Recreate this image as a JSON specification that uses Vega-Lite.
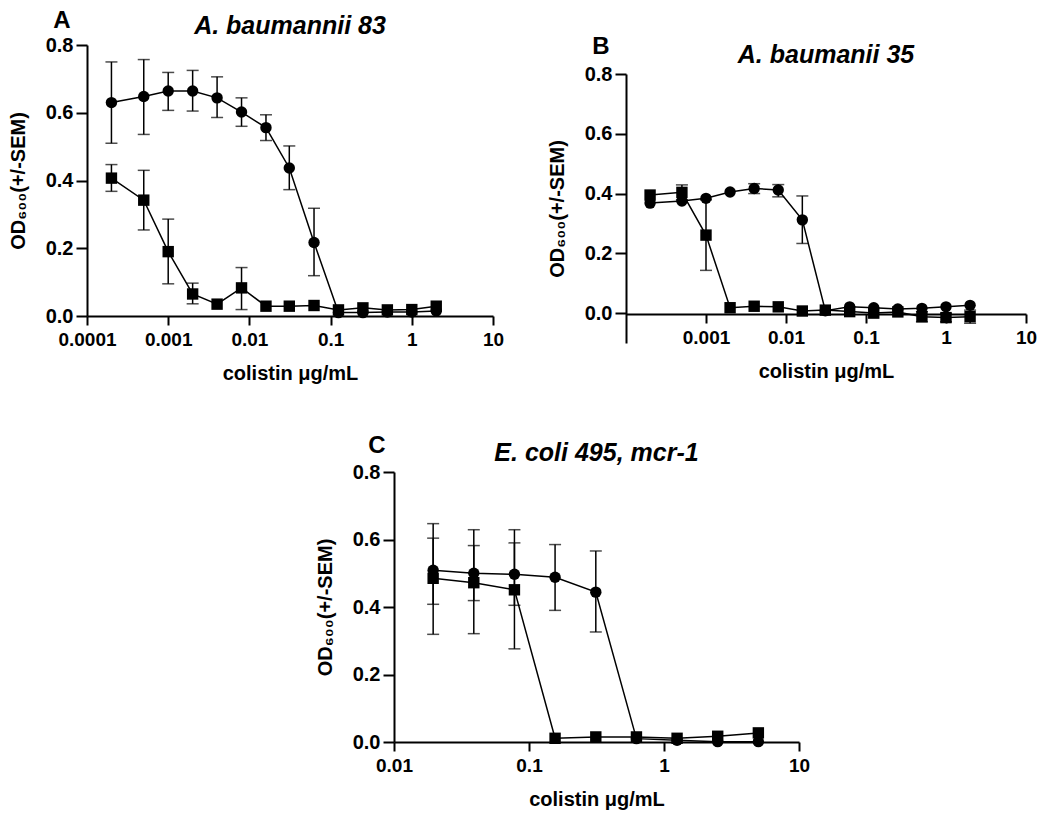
{
  "$schema": "https://vega.github.io/schema/vega-lite/v6.json",
  "background": "white",
  "padding": {"left": 8, "top": 9, "right": 5, "bottom": 5},
  "config": {
    "view": {"stroke": null},
    "font": "Liberation Sans",
    "axis": {
      "domainColor": "black", "domainWidth": 2, "tickColor": "black", "tickWidth": 2, "tickSize": 9,
      "labelFont": "Liberation Sans", "labelFontSize": 19, "labelFontWeight": "bold", "labelColor": "black",
      "titleFont": "Liberation Sans", "titleFontSize": 20, "titleFontWeight": "bold", "titleColor": "black",
      "grid": false, "labelFlush": false, "labelOverlap": false
    },
    "axisX": {"labelPadding": 5, "titlePadding": 14},
    "axisY": {"labelPadding": 3, "titlePadding": 17, "labelFontSize": 20, "tickSize": 11},
    "title": {"font": "Liberation Sans", "fontSize": 25, "fontWeight": "bold", "fontStyle": "italic", "color": "black", "anchor": "middle", "offset": -4}
  },
  "datasets": {
    "d": [
      {"panel": "A", "s": "circle", "x": 0.0002, "y": 0.630, "lo": 0.510, "hi": 0.750},
      {"panel": "A", "s": "circle", "x": 0.0005, "y": 0.648, "lo": 0.536, "hi": 0.757},
      {"panel": "A", "s": "circle", "x": 0.001, "y": 0.664, "lo": 0.607, "hi": 0.719},
      {"panel": "A", "s": "circle", "x": 0.002, "y": 0.664, "lo": 0.605, "hi": 0.725},
      {"panel": "A", "s": "circle", "x": 0.004, "y": 0.644, "lo": 0.586, "hi": 0.706},
      {"panel": "A", "s": "circle", "x": 0.008, "y": 0.602, "lo": 0.560, "hi": 0.644},
      {"panel": "A", "s": "circle", "x": 0.016, "y": 0.556, "lo": 0.518, "hi": 0.594},
      {"panel": "A", "s": "circle", "x": 0.031, "y": 0.437, "lo": 0.373, "hi": 0.502},
      {"panel": "A", "s": "circle", "x": 0.0625, "y": 0.217, "lo": 0.119, "hi": 0.318},
      {"panel": "A", "s": "circle", "x": 0.125, "y": 0.010, "lo": null, "hi": null},
      {"panel": "A", "s": "circle", "x": 0.25, "y": 0.010, "lo": null, "hi": null},
      {"panel": "A", "s": "circle", "x": 0.5, "y": 0.012, "lo": null, "hi": null},
      {"panel": "A", "s": "circle", "x": 1, "y": 0.012, "lo": null, "hi": null},
      {"panel": "A", "s": "circle", "x": 2, "y": 0.015, "lo": null, "hi": null},
      {"panel": "A", "s": "square", "x": 0.0002, "y": 0.407, "lo": 0.368, "hi": 0.447},
      {"panel": "A", "s": "square", "x": 0.0005, "y": 0.342, "lo": 0.254, "hi": 0.430},
      {"panel": "A", "s": "square", "x": 0.001, "y": 0.190, "lo": 0.095, "hi": 0.286},
      {"panel": "A", "s": "square", "x": 0.002, "y": 0.065, "lo": 0.036, "hi": 0.097},
      {"panel": "A", "s": "square", "x": 0.004, "y": 0.035, "lo": null, "hi": null},
      {"panel": "A", "s": "square", "x": 0.008, "y": 0.083, "lo": 0.019, "hi": 0.143},
      {"panel": "A", "s": "square", "x": 0.016, "y": 0.029, "lo": null, "hi": null},
      {"panel": "A", "s": "square", "x": 0.031, "y": 0.029, "lo": null, "hi": null},
      {"panel": "A", "s": "square", "x": 0.0625, "y": 0.031, "lo": null, "hi": null},
      {"panel": "A", "s": "square", "x": 0.125, "y": 0.018, "lo": null, "hi": null},
      {"panel": "A", "s": "square", "x": 0.25, "y": 0.024, "lo": null, "hi": null},
      {"panel": "A", "s": "square", "x": 0.5, "y": 0.018, "lo": null, "hi": null},
      {"panel": "A", "s": "square", "x": 1, "y": 0.019, "lo": null, "hi": null},
      {"panel": "A", "s": "square", "x": 2, "y": 0.029, "lo": null, "hi": null},

      {"panel": "B", "s": "circle", "x": 0.0002, "y": 0.368, "lo": null, "hi": null},
      {"panel": "B", "s": "circle", "x": 0.0005, "y": 0.375, "lo": null, "hi": null},
      {"panel": "B", "s": "circle", "x": 0.001, "y": 0.384, "lo": null, "hi": null},
      {"panel": "B", "s": "circle", "x": 0.002, "y": 0.405, "lo": null, "hi": null},
      {"panel": "B", "s": "circle", "x": 0.004, "y": 0.417, "lo": 0.400, "hi": 0.433},
      {"panel": "B", "s": "circle", "x": 0.008, "y": 0.412, "lo": 0.389, "hi": 0.430},
      {"panel": "B", "s": "circle", "x": 0.016, "y": 0.312, "lo": 0.233, "hi": 0.392},
      {"panel": "B", "s": "circle", "x": 0.031, "y": 0.008, "lo": null, "hi": null},
      {"panel": "B", "s": "circle", "x": 0.0625, "y": 0.021, "lo": null, "hi": null},
      {"panel": "B", "s": "circle", "x": 0.125, "y": 0.018, "lo": null, "hi": null},
      {"panel": "B", "s": "circle", "x": 0.25, "y": 0.014, "lo": null, "hi": null},
      {"panel": "B", "s": "circle", "x": 0.5, "y": 0.016, "lo": null, "hi": null},
      {"panel": "B", "s": "circle", "x": 1, "y": 0.021, "lo": null, "hi": null},
      {"panel": "B", "s": "circle", "x": 2, "y": 0.026, "lo": null, "hi": null},
      {"panel": "B", "s": "square", "x": 0.0002, "y": 0.395, "lo": null, "hi": null},
      {"panel": "B", "s": "square", "x": 0.0005, "y": 0.404, "lo": 0.379, "hi": 0.429},
      {"panel": "B", "s": "square", "x": 0.001, "y": 0.261, "lo": 0.143, "hi": 0.379},
      {"panel": "B", "s": "square", "x": 0.002, "y": 0.018, "lo": null, "hi": null},
      {"panel": "B", "s": "square", "x": 0.004, "y": 0.023, "lo": null, "hi": null},
      {"panel": "B", "s": "square", "x": 0.008, "y": 0.021, "lo": null, "hi": null},
      {"panel": "B", "s": "square", "x": 0.016, "y": 0.007, "lo": null, "hi": null},
      {"panel": "B", "s": "square", "x": 0.031, "y": 0.010, "lo": null, "hi": null},
      {"panel": "B", "s": "square", "x": 0.0625, "y": 0.005, "lo": null, "hi": null},
      {"panel": "B", "s": "square", "x": 0.125, "y": 0.000, "lo": null, "hi": null},
      {"panel": "B", "s": "square", "x": 0.25, "y": 0.004, "lo": null, "hi": null},
      {"panel": "B", "s": "square", "x": 0.5, "y": -0.012, "lo": -0.029, "hi": 0.005},
      {"panel": "B", "s": "square", "x": 1, "y": -0.015, "lo": -0.029, "hi": -0.001},
      {"panel": "B", "s": "square", "x": 2, "y": -0.012, "lo": -0.034, "hi": 0.010},

      {"panel": "C", "s": "circle", "x": 0.0195, "y": 0.509, "lo": 0.408, "hi": 0.604},
      {"panel": "C", "s": "circle", "x": 0.039, "y": 0.500, "lo": 0.419, "hi": 0.582},
      {"panel": "C", "s": "circle", "x": 0.078, "y": 0.497, "lo": 0.405, "hi": 0.590},
      {"panel": "C", "s": "circle", "x": 0.156, "y": 0.488, "lo": 0.390, "hi": 0.585},
      {"panel": "C", "s": "circle", "x": 0.3125, "y": 0.444, "lo": 0.326, "hi": 0.566},
      {"panel": "C", "s": "circle", "x": 0.625, "y": 0.010, "lo": null, "hi": null},
      {"panel": "C", "s": "circle", "x": 1.25, "y": 0.005, "lo": null, "hi": null},
      {"panel": "C", "s": "circle", "x": 2.5, "y": 0.001, "lo": null, "hi": null},
      {"panel": "C", "s": "circle", "x": 5, "y": 0.001, "lo": null, "hi": null},
      {"panel": "C", "s": "square", "x": 0.0195, "y": 0.485, "lo": 0.319, "hi": 0.647},
      {"panel": "C", "s": "square", "x": 0.039, "y": 0.472, "lo": 0.321, "hi": 0.629},
      {"panel": "C", "s": "square", "x": 0.078, "y": 0.451, "lo": 0.276, "hi": 0.629},
      {"panel": "C", "s": "square", "x": 0.156, "y": 0.011, "lo": null, "hi": null},
      {"panel": "C", "s": "square", "x": 0.3125, "y": 0.015, "lo": null, "hi": null},
      {"panel": "C", "s": "square", "x": 0.625, "y": 0.015, "lo": null, "hi": null},
      {"panel": "C", "s": "square", "x": 1.25, "y": 0.011, "lo": null, "hi": null},
      {"panel": "C", "s": "square", "x": 2.5, "y": 0.017, "lo": null, "hi": null},
      {"panel": "C", "s": "square", "x": 5, "y": 0.027, "lo": null, "hi": null}
    ]
  },
  "spacing": 51,
  "vconcat": [
    {
      "spacing": 43,
      "hconcat": [
        {
          "title": {"text": "A", "fontStyle": "normal", "anchor": "start", "dx": 45, "dy": 15, "fontSize": 24},
          "vconcat": [
            {
              "width": 406, "height": 271,
              "data": {"name": "d"},
              "transform": [{"filter": "datum.panel === 'A'"}],
              "title": {"text": "A. baumannii 83"},
              "encoding": {
                "x": {"field": "x", "type": "quantitative",
                      "scale": {"type": "log", "domain": [0.0001, 10]},
                      "axis": {"values": [0.0001, 0.001, 0.01, 0.1, 1, 10], "format": ".4~f", "title": "colistin μg/mL"}}
              },
              "layer": [
                {"transform": [{"filter": "isValid(datum.lo)"}],
                 "mark": {"type": "errorbar", "ticks": {"size": 12}, "thickness": 1.5, "color": "black"},
                 "encoding": {
                   "y": {"field": "lo", "type": "quantitative", "scale": {"domain": [0, 0.8]},
                         "axis": {"values": [0, 0.2, 0.4, 0.6, 0.8], "format": ".1f", "title": "OD₆₀₀(+/-SEM)"}},
                   "y2": {"field": "hi"}}},
                {"mark": {"type": "line", "color": "black", "strokeWidth": 1.5},
                 "encoding": {"y": {"field": "y", "type": "quantitative", "axis": {"title": "OD₆₀₀(+/-SEM)"}}, "detail": {"field": "s"}}},
                {"mark": {"type": "point", "filled": true, "color": "black", "opacity": 1, "size": 130},
                 "encoding": {"y": {"field": "y", "type": "quantitative", "axis": {"title": "OD₆₀₀(+/-SEM)"}},
                   "shape": {"field": "s", "type": "nominal", "scale": {"domain": ["circle", "square"], "range": ["circle", "square"]}, "legend": null}}}
              ]
            }
          ]
        },
        {
          "title": {"text": "B", "fontStyle": "normal", "anchor": "start", "dx": 45, "dy": 12, "fontSize": 24},
          "spacing": -10,
          "vconcat": [
            {"width": 10, "height": 8, "data": {"values": []}, "mark": "point", "encoding": {}},
            {
              "width": 400, "height": 269,
              "data": {"name": "d"},
              "transform": [{"filter": "datum.panel === 'B'"}],
              "title": {"text": "A. baumanii 35"},
              "encoding": {
                "x": {"field": "x", "type": "quantitative",
                      "scale": {"type": "log", "domain": [0.0001, 10]},
                      "axis": {"values": [0.001, 0.01, 0.1, 1, 10], "format": ".4~f", "title": "colistin μg/mL", "offset": -29}}
              },
              "layer": [
                {"transform": [{"filter": "isValid(datum.lo)"}],
                 "mark": {"type": "errorbar", "ticks": {"size": 12}, "thickness": 1.5, "color": "black"},
                 "encoding": {
                   "y": {"field": "lo", "type": "quantitative", "scale": {"domain": [-0.096, 0.8]},
                         "axis": {"values": [0, 0.2, 0.4, 0.6, 0.8], "format": ".1f", "title": "OD₆₀₀(+/-SEM)"}},
                   "y2": {"field": "hi"}}},
                {"mark": {"type": "line", "color": "black", "strokeWidth": 1.5},
                 "encoding": {"y": {"field": "y", "type": "quantitative", "axis": {"title": "OD₆₀₀(+/-SEM)"}}, "detail": {"field": "s"}}},
                {"mark": {"type": "point", "filled": true, "color": "black", "opacity": 1, "size": 130},
                 "encoding": {"y": {"field": "y", "type": "quantitative", "axis": {"title": "OD₆₀₀(+/-SEM)"}},
                   "shape": {"field": "s", "type": "nominal", "scale": {"domain": ["circle", "square"], "range": ["circle", "square"]}, "legend": null}}}
              ]
            }
          ]
        }
      ]
    },
    {
      "spacing": 20,
      "hconcat": [
        {"width": 208, "height": 1, "data": {"values": []}, "mark": "point", "encoding": {}},
        {
          "title": {"text": "C", "fontStyle": "normal", "anchor": "start", "dx": 53, "dy": 13, "fontSize": 24},
          "vconcat": [
            {
              "width": 405, "height": 270,
              "data": {"name": "d"},
              "transform": [{"filter": "datum.panel === 'C'"}],
              "title": {"text": "E. coli 495, mcr-1"},
              "encoding": {
                "x": {"field": "x", "type": "quantitative",
                      "scale": {"type": "log", "domain": [0.01, 10]},
                      "axis": {"values": [0.01, 0.1, 1, 10], "format": ".4~f", "title": "colistin μg/mL"}}
              },
              "layer": [
                {"transform": [{"filter": "isValid(datum.lo)"}],
                 "mark": {"type": "errorbar", "ticks": {"size": 12}, "thickness": 1.5, "color": "black"},
                 "encoding": {
                   "y": {"field": "lo", "type": "quantitative", "scale": {"domain": [0, 0.8]},
                         "axis": {"values": [0, 0.2, 0.4, 0.6, 0.8], "format": ".1f", "title": "OD₆₀₀(+/-SEM)"}},
                   "y2": {"field": "hi"}}},
                {"mark": {"type": "line", "color": "black", "strokeWidth": 1.5},
                 "encoding": {"y": {"field": "y", "type": "quantitative", "axis": {"title": "OD₆₀₀(+/-SEM)"}}, "detail": {"field": "s"}}},
                {"mark": {"type": "point", "filled": true, "color": "black", "opacity": 1, "size": 130},
                 "encoding": {"y": {"field": "y", "type": "quantitative", "axis": {"title": "OD₆₀₀(+/-SEM)"}},
                   "shape": {"field": "s", "type": "nominal", "scale": {"domain": ["circle", "square"], "range": ["circle", "square"]}, "legend": null}}}
              ]
            }
          ]
        }
      ]
    }
  ]
}
